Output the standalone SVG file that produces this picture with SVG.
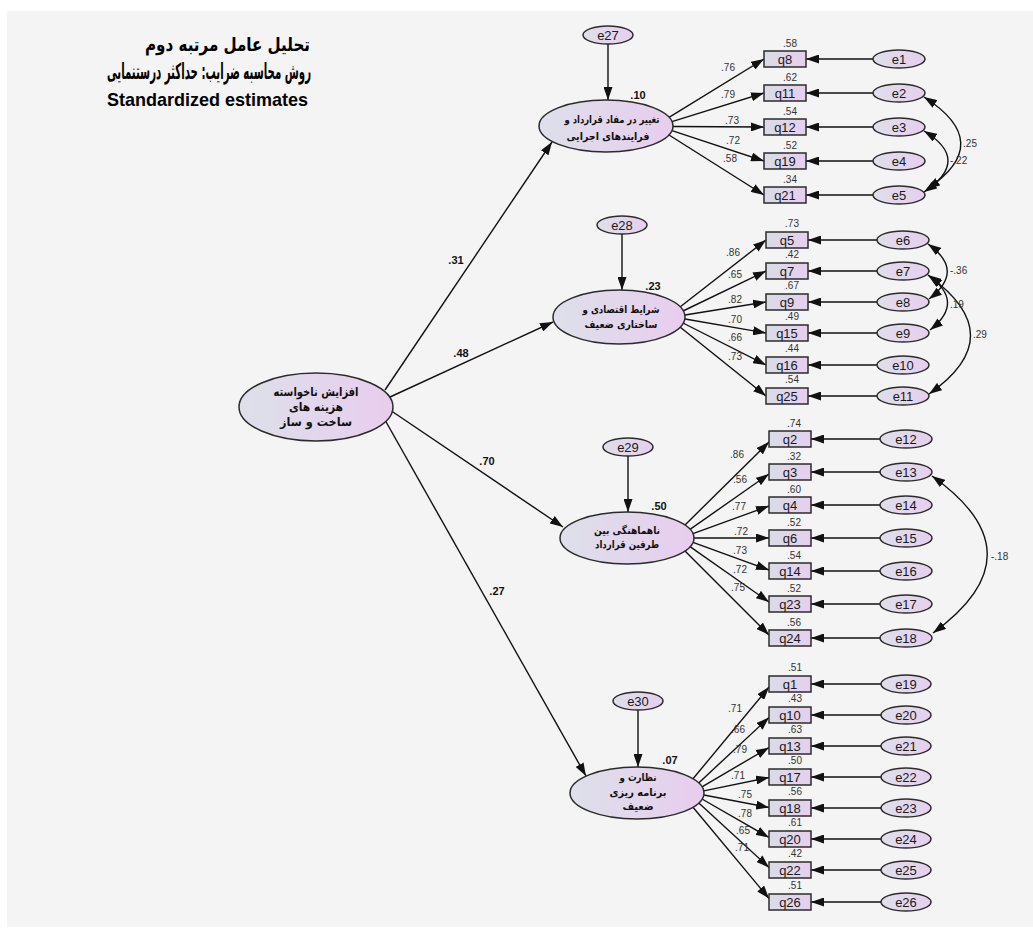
<svg xmlns="http://www.w3.org/2000/svg" width="1033" height="929" viewBox="0 0 1033 929">
<defs>
<linearGradient id="gL" x1="0" y1="0" x2="1" y2="0"><stop offset="0" stop-color="#dde0ea"/><stop offset="1" stop-color="#e8cdee"/></linearGradient>
<linearGradient id="gE" x1="0" y1="0" x2="1" y2="0"><stop offset="0" stop-color="#dfdfea"/><stop offset="1" stop-color="#e6cfee"/></linearGradient>
<linearGradient id="gB" x1="0" y1="0" x2="1" y2="0"><stop offset="0" stop-color="#d9dce7"/><stop offset="1" stop-color="#e6cfee"/></linearGradient>
<marker id="ah" markerUnits="userSpaceOnUse" markerWidth="13" markerHeight="9" viewBox="0 0 13 9" refX="13" refY="4.5" orient="auto-start-reverse"><path d="M0,0 L13,4.5 L0,9 z" fill="#111"/></marker>
<style>
.lat{fill:url(#gL);stroke:#2b2b2b;stroke-width:1.5}
.err{fill:url(#gE);stroke:#2b2b2b;stroke-width:1.5}
.obs{fill:url(#gB);stroke:#2b2b2b;stroke-width:1.5}
.t{font-family:"Liberation Sans",Arial,sans-serif;font-size:13px;fill:#1a1a1a;text-anchor:middle}
.n{font-family:"Liberation Sans",Arial,sans-serif;font-size:10px;fill:#333;text-anchor:middle}
.ns{font-family:"Liberation Sans",Arial,sans-serif;font-size:10px;fill:#333}
.b{font-family:"Liberation Sans",Arial,sans-serif;font-size:11px;font-weight:bold;fill:#111;text-anchor:middle}
.fa{font-family:"DejaVu Sans","Noto Sans",sans-serif;font-size:10.5px;font-weight:bold;fill:#111;text-anchor:middle;direction:rtl}
.fm{font-family:"DejaVu Sans","Noto Sans",sans-serif;font-size:12px;font-weight:bold;fill:#111;text-anchor:middle;direction:rtl}
.tt{font-family:"DejaVu Sans","Noto Sans",sans-serif;font-size:19px;font-weight:bold;fill:#000;direction:rtl;text-anchor:start}
.tt2{font-family:"DejaVu Sans","Noto Sans",sans-serif;font-size:22px;font-weight:bold;fill:#000;direction:rtl;text-anchor:start}
.te{font-family:"Liberation Sans",Arial,sans-serif;font-size:19px;font-weight:bold;fill:#000}
.c line,.c path{stroke:#111;stroke-width:1.4;fill:none}
</style>
</defs>
<rect x="0" y="0" width="1033" height="929" fill="#ffffff"/>
<rect x="7" y="11" width="1026" height="916" fill="#f4f4f4"/>

<g id="title">
<text class="tt" x="310" y="51" textLength="165" lengthAdjust="spacingAndGlyphs">تحلیل عامل مرتبه دوم</text>
<text class="tt2" x="311" y="79" textLength="204" lengthAdjust="spacingAndGlyphs">روش محاسبه ضرایب: حداکثر درستنمایی</text>
<text class="te" x="107" y="106" textLength="201" lengthAdjust="spacingAndGlyphs">Standardized estimates</text>
</g>

<g id="connectors" class="c">
<line x1="385" y1="390" x2="552" y2="142" marker-end="url(#ah)"/>
<line x1="390" y1="397" x2="553" y2="322" marker-end="url(#ah)"/>
<line x1="390" y1="410" x2="563" y2="527" marker-end="url(#ah)"/>
<line x1="385" y1="420" x2="586" y2="776" marker-end="url(#ah)"/>
<line x1="608" y1="44" x2="608" y2="100" marker-end="url(#ah)"/>
<line x1="622" y1="234" x2="622" y2="290" marker-end="url(#ah)"/>
<line x1="628" y1="456" x2="628" y2="512" marker-end="url(#ah)"/>
<line x1="638" y1="710" x2="638" y2="767" marker-end="url(#ah)"/>
<line x1="669" y1="117.3" x2="764" y2="59" marker-end="url(#ah)"/>
<line x1="672" y1="121.7" x2="764" y2="93" marker-end="url(#ah)"/>
<line x1="673" y1="126.5" x2="764" y2="127" marker-end="url(#ah)"/>
<line x1="672" y1="130.6" x2="764" y2="161" marker-end="url(#ah)"/>
<line x1="669" y1="135" x2="764" y2="195" marker-end="url(#ah)"/>
<line x1="680" y1="307" x2="766" y2="240" marker-end="url(#ah)"/>
<line x1="683" y1="311" x2="766" y2="271" marker-end="url(#ah)"/>
<line x1="685" y1="315" x2="766" y2="302" marker-end="url(#ah)"/>
<line x1="685" y1="319" x2="766" y2="333" marker-end="url(#ah)"/>
<line x1="683" y1="323" x2="766" y2="365" marker-end="url(#ah)"/>
<line x1="680" y1="327" x2="766" y2="396" marker-end="url(#ah)"/>
<line x1="685" y1="525" x2="769" y2="442" marker-end="url(#ah)"/>
<line x1="690" y1="529.4" x2="769" y2="474" marker-end="url(#ah)"/>
<line x1="693" y1="533.7" x2="769" y2="506" marker-end="url(#ah)"/>
<line x1="694" y1="538" x2="769" y2="538" marker-end="url(#ah)"/>
<line x1="693" y1="542.3" x2="769" y2="570" marker-end="url(#ah)"/>
<line x1="690" y1="546.6" x2="769" y2="602" marker-end="url(#ah)"/>
<line x1="685" y1="551" x2="769" y2="635" marker-end="url(#ah)"/>
<line x1="693" y1="778.8" x2="769" y2="687" marker-end="url(#ah)"/>
<line x1="698.7" y1="782.9" x2="769" y2="717.5" marker-end="url(#ah)"/>
<line x1="702" y1="786.9" x2="769" y2="747.5" marker-end="url(#ah)"/>
<line x1="703.8" y1="790.9" x2="769" y2="777.5" marker-end="url(#ah)"/>
<line x1="703.8" y1="795" x2="769" y2="807.5" marker-end="url(#ah)"/>
<line x1="702" y1="799" x2="769" y2="837.5" marker-end="url(#ah)"/>
<line x1="698.8" y1="803" x2="769" y2="867.5" marker-end="url(#ah)"/>
<line x1="693" y1="807.2" x2="769" y2="898.5" marker-end="url(#ah)"/>
<line x1="873" y1="59" x2="806" y2="59" marker-end="url(#ah)"/>
<line x1="873" y1="93" x2="806" y2="93" marker-end="url(#ah)"/>
<line x1="873" y1="127" x2="806" y2="127" marker-end="url(#ah)"/>
<line x1="873" y1="161" x2="806" y2="161" marker-end="url(#ah)"/>
<line x1="873" y1="195" x2="806" y2="195" marker-end="url(#ah)"/>
<line x1="877" y1="240" x2="808" y2="240" marker-end="url(#ah)"/>
<line x1="877" y1="271" x2="808" y2="271" marker-end="url(#ah)"/>
<line x1="877" y1="302" x2="808" y2="302" marker-end="url(#ah)"/>
<line x1="877" y1="333" x2="808" y2="333" marker-end="url(#ah)"/>
<line x1="877" y1="365" x2="808" y2="365" marker-end="url(#ah)"/>
<line x1="877" y1="396" x2="808" y2="396" marker-end="url(#ah)"/>
<line x1="880" y1="439" x2="811" y2="439" marker-end="url(#ah)"/>
<line x1="880" y1="472" x2="811" y2="472" marker-end="url(#ah)"/>
<line x1="880" y1="505" x2="811" y2="505" marker-end="url(#ah)"/>
<line x1="880" y1="538" x2="811" y2="538" marker-end="url(#ah)"/>
<line x1="880" y1="571" x2="811" y2="571" marker-end="url(#ah)"/>
<line x1="880" y1="604" x2="811" y2="604" marker-end="url(#ah)"/>
<line x1="880" y1="638" x2="811" y2="638" marker-end="url(#ah)"/>
<line x1="881" y1="684" x2="811" y2="684" marker-end="url(#ah)"/>
<line x1="881" y1="715" x2="811" y2="715" marker-end="url(#ah)"/>
<line x1="881" y1="746" x2="811" y2="746" marker-end="url(#ah)"/>
<line x1="881" y1="777" x2="811" y2="777" marker-end="url(#ah)"/>
<line x1="881" y1="808" x2="811" y2="808" marker-end="url(#ah)"/>
<line x1="881" y1="839" x2="811" y2="839" marker-end="url(#ah)"/>
<line x1="881" y1="870" x2="811" y2="870" marker-end="url(#ah)"/>
<line x1="881" y1="902" x2="811" y2="902" marker-end="url(#ah)"/>
<path d="M924,97 Q996,143 927,189" marker-start="url(#ah)" marker-end="url(#ah)"/>
<path d="M924,131 Q972,160 924,192" marker-start="url(#ah)" marker-end="url(#ah)"/>
<path d="M928,244 Q966,271 929,299" marker-start="url(#ah)" marker-end="url(#ah)"/>
<path d="M928,275 Q966,302 930,330" marker-start="url(#ah)" marker-end="url(#ah)"/>
<path d="M929,276 Q1012,336 929,394" marker-start="url(#ah)" marker-end="url(#ah)"/>
<path d="M932,476 Q1042,554 933,633" marker-start="url(#ah)" marker-end="url(#ah)"/>
<text class="b" x="456" y="264">.31</text>
<text class="b" x="461" y="357">.48</text>
<text class="b" x="487" y="465">.70</text>
<text class="b" x="497" y="595">.27</text>
<text class="n" x="728" y="71">.76</text>
<text class="n" x="728" y="98">.79</text>
<text class="n" x="732" y="124">.73</text>
<text class="n" x="733" y="144">.72</text>
<text class="n" x="730" y="162">.58</text>
<text class="n" x="733" y="256">.86</text>
<text class="n" x="735" y="278">.65</text>
<text class="n" x="735" y="303">.82</text>
<text class="n" x="735" y="323">.70</text>
<text class="n" x="735" y="341">.66</text>
<text class="n" x="735" y="360">.73</text>
<text class="n" x="737" y="458">.86</text>
<text class="n" x="740" y="483">.56</text>
<text class="n" x="739" y="510">.77</text>
<text class="n" x="741" y="535">.72</text>
<text class="n" x="740" y="554">.73</text>
<text class="n" x="740" y="573">.72</text>
<text class="n" x="738" y="591">.75</text>
<text class="n" x="735" y="712">.71</text>
<text class="n" x="738" y="733">.66</text>
<text class="n" x="740" y="753">.79</text>
<text class="n" x="738" y="779">.71</text>
<text class="n" x="745" y="798">.75</text>
<text class="n" x="745" y="817">.78</text>
<text class="n" x="743" y="834">.65</text>
<text class="n" x="742" y="851">.71</text>
<text class="n" x="970" y="147">.25</text>
<text class="ns" x="950" y="164">-.22</text>
<text class="ns" x="950" y="274">-.36</text>
<text class="ns" x="950" y="308">.19</text>
<text class="ns" x="973" y="338">.29</text>
<text class="ns" x="991" y="560">-.18</text>
</g>

<g id="main"><ellipse class="lat" cx="316" cy="407" rx="77" ry="34"/>
<text class="fm" x="316" y="396" textLength="85" lengthAdjust="spacingAndGlyphs">افزایش ناخواسته</text>
<text class="fm" x="316" y="411" textLength="54" lengthAdjust="spacingAndGlyphs">هزینه های</text>
<text class="fm" x="316" y="426" textLength="72" lengthAdjust="spacingAndGlyphs">ساخت و ساز</text></g>

<g id="F1"><ellipse class="lat" cx="606" cy="126" rx="67" ry="26"/>
<text class="fa" x="612" y="123" textLength="95" lengthAdjust="spacingAndGlyphs">تغییر در مفاد قرارداد و</text>
<text class="fa" x="608" y="140" textLength="83" lengthAdjust="spacingAndGlyphs">فرایندهای اجرایی</text>
<text class="b" x="638" y="99">.10</text></g>
<g id="F2"><ellipse class="lat" cx="619" cy="317" rx="66" ry="27"/>
<text class="fa" x="621" y="313" textLength="77" lengthAdjust="spacingAndGlyphs">شرایط اقتصادی و</text>
<text class="fa" x="621" y="328" textLength="73" lengthAdjust="spacingAndGlyphs">ساختاری ضعیف</text>
<text class="b" x="653" y="290">.23</text></g>
<g id="F3"><ellipse class="lat" cx="627" cy="538" rx="67" ry="26"/>
<text class="fa" x="627" y="534" textLength="66" lengthAdjust="spacingAndGlyphs">ناهماهنگی بین</text>
<text class="fa" x="627" y="548" textLength="64" lengthAdjust="spacingAndGlyphs">طرفین قرارداد</text>
<text class="b" x="659" y="510">.50</text></g>
<g id="F4"><ellipse class="lat" cx="637" cy="793" rx="67" ry="26"/>
<text class="fa" x="638" y="781" textLength="37" lengthAdjust="spacingAndGlyphs">نظارت و</text>
<text class="fa" x="638" y="796" textLength="57" lengthAdjust="spacingAndGlyphs">برنامه ریزی</text>
<text class="fa" x="638" y="810" textLength="31" lengthAdjust="spacingAndGlyphs">ضعیف</text>
<text class="b" x="670" y="764">.07</text></g>

<g id="e27"><ellipse class="err" cx="608" cy="35" rx="25" ry="9"/><text class="t" x="608" y="40">e27</text></g>
<g id="e28"><ellipse class="err" cx="622" cy="225" rx="25" ry="9"/><text class="t" x="622" y="230">e28</text></g>
<g id="e29"><ellipse class="err" cx="628" cy="447" rx="25" ry="9"/><text class="t" x="628" y="452">e29</text></g>
<g id="e30"><ellipse class="err" cx="638" cy="701" rx="25" ry="9"/><text class="t" x="638" y="706">e30</text></g>

<g id="q8"><rect class="obs" x="764" y="51" width="42" height="16"/><text class="t" x="785" y="64">q8</text><text class="n" x="790" y="47">.58</text></g>
<g id="q11"><rect class="obs" x="764" y="85" width="42" height="16"/><text class="t" x="785" y="98">q11</text><text class="n" x="790" y="81">.62</text></g>
<g id="q12"><rect class="obs" x="764" y="119" width="42" height="16"/><text class="t" x="785" y="132">q12</text><text class="n" x="790" y="115">.54</text></g>
<g id="q19"><rect class="obs" x="764" y="153" width="42" height="16"/><text class="t" x="785" y="166">q19</text><text class="n" x="790" y="149">.52</text></g>
<g id="q21"><rect class="obs" x="764" y="187" width="42" height="16"/><text class="t" x="785" y="200">q21</text><text class="n" x="790" y="183">.34</text></g>

<g id="q5"><rect class="obs" x="766" y="232" width="42" height="16"/><text class="t" x="787" y="245">q5</text><text class="n" x="792" y="227">.73</text></g>
<g id="q7"><rect class="obs" x="766" y="263" width="42" height="16"/><text class="t" x="787" y="276">q7</text><text class="n" x="792" y="258">.42</text></g>
<g id="q9"><rect class="obs" x="766" y="294" width="42" height="16"/><text class="t" x="787" y="307">q9</text><text class="n" x="792" y="289">.67</text></g>
<g id="q15"><rect class="obs" x="766" y="325" width="42" height="16"/><text class="t" x="787" y="338">q15</text><text class="n" x="792" y="320">.49</text></g>
<g id="q16"><rect class="obs" x="766" y="357" width="42" height="16"/><text class="t" x="787" y="370">q16</text><text class="n" x="792" y="352">.44</text></g>
<g id="q25"><rect class="obs" x="766" y="388" width="42" height="16"/><text class="t" x="787" y="401">q25</text><text class="n" x="792" y="383">.54</text></g>

<g id="q2"><rect class="obs" x="769" y="431" width="42" height="16"/><text class="t" x="790" y="444">q2</text><text class="n" x="794" y="427">.74</text></g>
<g id="q3"><rect class="obs" x="769" y="464" width="42" height="16"/><text class="t" x="790" y="477">q3</text><text class="n" x="794" y="460">.32</text></g>
<g id="q4"><rect class="obs" x="769" y="497" width="42" height="16"/><text class="t" x="790" y="510">q4</text><text class="n" x="794" y="493">.60</text></g>
<g id="q6"><rect class="obs" x="769" y="530" width="42" height="16"/><text class="t" x="790" y="543">q6</text><text class="n" x="794" y="526">.52</text></g>
<g id="q14"><rect class="obs" x="769" y="563" width="42" height="16"/><text class="t" x="790" y="576">q14</text><text class="n" x="794" y="559">.54</text></g>
<g id="q23"><rect class="obs" x="769" y="596" width="42" height="16"/><text class="t" x="790" y="609">q23</text><text class="n" x="794" y="592">.52</text></g>
<g id="q24"><rect class="obs" x="769" y="630" width="42" height="16"/><text class="t" x="790" y="643">q24</text><text class="n" x="794" y="626">.56</text></g>

<g id="q1"><rect class="obs" x="769" y="676" width="42" height="16"/><text class="t" x="790" y="689">q1</text><text class="n" x="795" y="671">.51</text></g>
<g id="q10"><rect class="obs" x="769" y="707" width="42" height="16"/><text class="t" x="790" y="720">q10</text><text class="n" x="795" y="702">.43</text></g>
<g id="q13"><rect class="obs" x="769" y="738" width="42" height="16"/><text class="t" x="790" y="751">q13</text><text class="n" x="795" y="733">.63</text></g>
<g id="q17"><rect class="obs" x="769" y="769" width="42" height="16"/><text class="t" x="790" y="782">q17</text><text class="n" x="795" y="764">.50</text></g>
<g id="q18"><rect class="obs" x="769" y="800" width="42" height="16"/><text class="t" x="790" y="813">q18</text><text class="n" x="795" y="795">.56</text></g>
<g id="q20"><rect class="obs" x="769" y="831" width="42" height="16"/><text class="t" x="790" y="844">q20</text><text class="n" x="795" y="826">.61</text></g>
<g id="q22"><rect class="obs" x="769" y="862" width="42" height="16"/><text class="t" x="790" y="875">q22</text><text class="n" x="795" y="857">.42</text></g>
<g id="q26"><rect class="obs" x="769" y="894" width="42" height="16"/><text class="t" x="790" y="907">q26</text><text class="n" x="795" y="889">.51</text></g>

<g id="e1"><ellipse class="err" cx="899" cy="59" rx="26" ry="9"/><text class="t" x="899" y="64">e1</text></g>
<g id="e2"><ellipse class="err" cx="899" cy="93" rx="26" ry="9"/><text class="t" x="899" y="98">e2</text></g>
<g id="e3"><ellipse class="err" cx="899" cy="127" rx="26" ry="9"/><text class="t" x="899" y="132">e3</text></g>
<g id="e4"><ellipse class="err" cx="899" cy="161" rx="26" ry="9"/><text class="t" x="899" y="166">e4</text></g>
<g id="e5"><ellipse class="err" cx="899" cy="195" rx="26" ry="9"/><text class="t" x="899" y="200">e5</text></g>
<g id="e6"><ellipse class="err" cx="903" cy="240" rx="26" ry="9"/><text class="t" x="903" y="245">e6</text></g>
<g id="e7"><ellipse class="err" cx="903" cy="271" rx="26" ry="9"/><text class="t" x="903" y="276">e7</text></g>
<g id="e8"><ellipse class="err" cx="903" cy="302" rx="26" ry="9"/><text class="t" x="903" y="307">e8</text></g>
<g id="e9"><ellipse class="err" cx="903" cy="333" rx="26" ry="9"/><text class="t" x="903" y="338">e9</text></g>
<g id="e10"><ellipse class="err" cx="903" cy="365" rx="26" ry="9"/><text class="t" x="903" y="370">e10</text></g>
<g id="e11"><ellipse class="err" cx="903" cy="396" rx="26" ry="9"/><text class="t" x="903" y="401">e11</text></g>
<g id="e12"><ellipse class="err" cx="906" cy="439" rx="26" ry="9"/><text class="t" x="906" y="444">e12</text></g>
<g id="e13"><ellipse class="err" cx="906" cy="472" rx="26" ry="9"/><text class="t" x="906" y="477">e13</text></g>
<g id="e14"><ellipse class="err" cx="906" cy="505" rx="26" ry="9"/><text class="t" x="906" y="510">e14</text></g>
<g id="e15"><ellipse class="err" cx="906" cy="538" rx="26" ry="9"/><text class="t" x="906" y="543">e15</text></g>
<g id="e16"><ellipse class="err" cx="906" cy="571" rx="26" ry="9"/><text class="t" x="906" y="576">e16</text></g>
<g id="e17"><ellipse class="err" cx="906" cy="604" rx="26" ry="9"/><text class="t" x="906" y="609">e17</text></g>
<g id="e18"><ellipse class="err" cx="906" cy="638" rx="26" ry="9"/><text class="t" x="906" y="643">e18</text></g>
<g id="e19"><ellipse class="err" cx="906" cy="684" rx="25" ry="9"/><text class="t" x="906" y="689">e19</text></g>
<g id="e20"><ellipse class="err" cx="906" cy="715" rx="25" ry="9"/><text class="t" x="906" y="720">e20</text></g>
<g id="e21"><ellipse class="err" cx="906" cy="746" rx="25" ry="9"/><text class="t" x="906" y="751">e21</text></g>
<g id="e22"><ellipse class="err" cx="906" cy="777" rx="25" ry="9"/><text class="t" x="906" y="782">e22</text></g>
<g id="e23"><ellipse class="err" cx="906" cy="808" rx="25" ry="9"/><text class="t" x="906" y="813">e23</text></g>
<g id="e24"><ellipse class="err" cx="906" cy="839" rx="25" ry="9"/><text class="t" x="906" y="844">e24</text></g>
<g id="e25"><ellipse class="err" cx="906" cy="870" rx="25" ry="9"/><text class="t" x="906" y="875">e25</text></g>
<g id="e26"><ellipse class="err" cx="906" cy="902" rx="25" ry="9"/><text class="t" x="906" y="907">e26</text></g>
</svg>
